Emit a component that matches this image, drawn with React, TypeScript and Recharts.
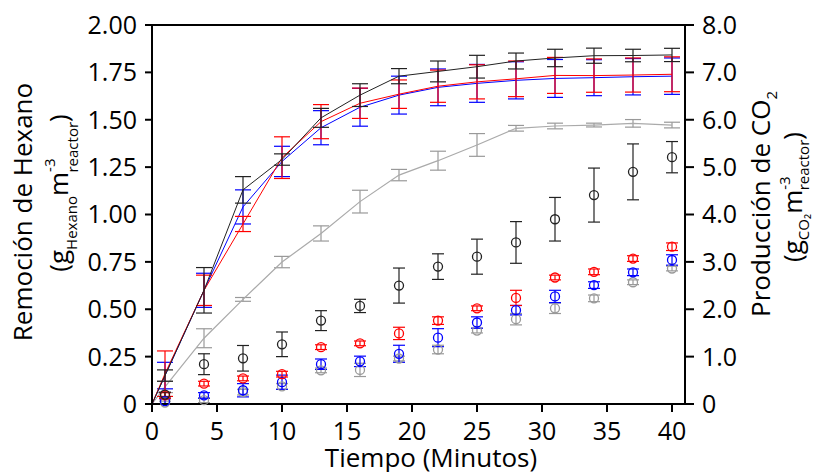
import { ComposedChart, Line, Scatter, XAxis, YAxis, ErrorBar, ReferenceLine } from "recharts"

// tiempo en minutos
const tiempo = [0, 1, 4, 7, 10, 13, 16, 19, 22, 25, 28, 31, 34, 37, 40]
const tiempoCO2 = [1, 4, 7, 10, 13, 16, 19, 22, 25, 28, 31, 34, 37, 40]

// remoción de hexano (eje izquierdo)
const hexNegro = [0, 0.15, 0.6, 1.13, 1.29, 1.51, 1.63, 1.73, 1.755, 1.78, 1.81, 1.826, 1.838, 1.839, 1.842]
const hexNegroErr = [0, 0.03, 0.12, 0.07, 0.03, 0.05, 0.06, 0.04, 0.055, 0.06, 0.042, 0.046, 0.04, 0.033, 0.035]
const hexRojo = [0, 0.16, 0.6, 0.95, 1.3, 1.49, 1.587, 1.635, 1.677, 1.7, 1.716, 1.734, 1.733, 1.736, 1.74]
const hexRojoErr = [0, 0.12, 0.08, 0.04, 0.11, 0.09, 0.08, 0.075, 0.085, 0.09, 0.094, 0.095, 0.088, 0.09, 0.092]
const hexAzul = [0, 0.15, 0.6, 1.04, 1.28, 1.458, 1.566, 1.63, 1.671, 1.692, 1.708, 1.718, 1.722, 1.727, 1.73]
const hexAzulErr = [0, 0.07, 0.09, 0.09, 0.08, 0.09, 0.1, 0.1, 0.097, 0.1, 0.098, 0.1, 0.095, 0.096, 0.096]
const hexGris = [0, 0.09, 0.347, 0.552, 0.749, 0.9, 1.068, 1.208, 1.284, 1.367, 1.455, 1.467, 1.472, 1.481, 1.472]
const hexGrisErr = [0, 0.03, 0.05, 0.01, 0.03, 0.04, 0.06, 0.03, 0.05, 0.06, 0.015, 0.015, 0.01, 0.02, 0.015]

// producción de CO2 (eje derecho)
const co2Negro = [0.2, 0.84, 0.965, 1.26, 1.76, 2.07, 2.5, 2.9, 3.11, 3.41, 3.9, 4.41, 4.9, 5.21]
const co2NegroErr = [0.05, 0.22, 0.27, 0.26, 0.21, 0.14, 0.37, 0.27, 0.37, 0.44, 0.46, 0.57, 0.59, 0.33]
const co2Rojo = [0.18, 0.43, 0.54, 0.63, 1.2, 1.28, 1.49, 1.76, 2.02, 2.24, 2.67, 2.79, 3.07, 3.32]
const co2RojoErr = [0.06, 0.05, 0.05, 0.06, 0.05, 0.05, 0.13, 0.08, 0.05, 0.16, 0.05, 0.06, 0.06, 0.08]
const co2Azul = [0.06, 0.18, 0.29, 0.46, 0.84, 0.9, 1.06, 1.4, 1.72, 1.98, 2.27, 2.51, 2.78, 3.04]
const co2AzulErr = [0.05, 0.06, 0.14, 0.15, 0.11, 0.11, 0.18, 0.19, 0.12, 0.1, 0.13, 0.07, 0.07, 0.11]
const co2Gris = [0.03, 0.08, 0.25, 0.37, 0.71, 0.72, 0.96, 1.15, 1.55, 1.79, 2.02, 2.23, 2.57, 2.86]
const co2GrisErr = [0.03, 0.05, 0.06, 0.06, 0.05, 0.14, 0.05, 0.09, 0.05, 0.12, 0.11, 0.07, 0.05, 0.05]

const xTicks = [0, 5, 10, 15, 20, 25, 30, 35, 40]
const leftTicks = [0, 0.25, 0.5, 0.75, 1, 1.25, 1.5, 1.75, 2]
const rightTicks = [0, 1, 2, 3, 4, 5, 6, 7, 8]

const lineData = tiempo.map((t, i) => ({
  t,
  negro: hexNegro[i],
  negroErr: hexNegroErr[i],
  rojo: hexRojo[i],
  rojoErr: hexRojoErr[i],
  azul: hexAzul[i],
  azulErr: hexAzulErr[i],
  gris: hexGris[i],
  grisErr: hexGrisErr[i],
}))

const serie = (vals: number[], errs: number[]) =>
  tiempoCO2.map((t, i) => ({ t, v: vals[i], e: errs[i] }))

const font = "'Open Sans', sans-serif"

const anillo = (color: string) => (props: any) =>
  <circle cx={props.cx} cy={props.cy} r={4.5} fill="none" stroke={color} strokeWidth={1.3} />

const TituloX = () => (
  <text x={431} y={467} textAnchor="middle" fontSize={26} fontFamily={font} fill="#000">
    Tiempo (Minutos)
  </text>
)

const TituloIzq = () => (
  <g fontFamily={font} fill="#000">
    <text transform="translate(32,212) rotate(-90)" textAnchor="middle" fontSize={26}>
      Remoción de Hexano
    </text>
    <text transform="translate(68,193) rotate(-90)" textAnchor="middle" fontSize={26}>
      (g
      <tspan fontSize={15} dy={9}>Hexano</tspan>
      <tspan dy={-9}>m</tspan>
      <tspan fontSize={15} dy={-13}>-3</tspan>
      <tspan fontSize={15} dx={-14} dy={23}>reactor</tspan>
      <tspan dy={-10}>)</tspan>
    </text>
  </g>
)

const TituloDer = () => (
  <g fontFamily={font} fill="#000">
    <text transform="translate(770,204) rotate(-90)" textAnchor="middle" fontSize={26}>
      Producción de CO
      <tspan fontSize={15} dy={7}>2</tspan>
    </text>
    <text transform="translate(802,197) rotate(-90)" textAnchor="middle" fontSize={26}>
      (g
      <tspan fontSize={15} dy={7}>CO₂</tspan>
      <tspan dy={-7}>m</tspan>
      <tspan fontSize={15} dy={-12}>-3</tspan>
      <tspan fontSize={15} dx={-14} dy={19}>reactor</tspan>
      <tspan dy={-7}>)</tspan>
    </text>
  </g>
)

export default function App() {
  return (
    <div style={{ position: "absolute", left: 0, top: 0, width: 814, height: 472, background: "#fff" }}>
      <ComposedChart width={814} height={472} data={lineData} margin={{ top: 25, right: 0, left: 0, bottom: 0 }}>
        <XAxis
          dataKey="t"
          type="number"
          domain={[0, 41]}
          ticks={xTicks}
          height={68}
          stroke="#000"
          strokeWidth={2}
          tickSize={8}
          tickMargin={10}
          tick={{ fontSize: 25, fontFamily: font, fill: "#000" }}
          label={{ content: TituloX }}
        />
        <YAxis
          yAxisId="left"
          orientation="left"
          domain={[0, 2]}
          ticks={leftTicks}
          width={152}
          stroke="#000"
          strokeWidth={2}
          tickSize={7}
          tickMargin={8}
          tickFormatter={(v: number) => (v === 0 ? "0" : v.toFixed(2))}
          tick={{ fontSize: 25, fontFamily: font, fill: "#000" }}
          label={{ content: TituloIzq }}
        />
        <YAxis
          yAxisId="right"
          orientation="right"
          domain={[0, 8]}
          ticks={rightTicks}
          width={129}
          stroke="#000"
          strokeWidth={2}
          tickSize={9}
          tickMargin={8}
          tickFormatter={(v: number) => (v === 0 ? "0" : v.toFixed(1))}
          tick={{ fontSize: 25, fontFamily: font, fill: "#000" }}
          label={{ content: TituloDer }}
        />
        <ReferenceLine yAxisId="left" y={2} stroke="#000" strokeWidth={2} />

        <Line yAxisId="left" dataKey="gris" stroke="#aaaaaa" strokeWidth={1.2} dot={false} isAnimationActive={false}>
          <ErrorBar dataKey="grisErr" width={8} stroke="#999999" strokeWidth={1.2} />
        </Line>
        <Line yAxisId="left" dataKey="azul" stroke="#0000ff" strokeWidth={1} dot={false} isAnimationActive={false}>
          <ErrorBar dataKey="azulErr" width={8} stroke="#0000ff" strokeWidth={1.2} />
        </Line>
        <Line yAxisId="left" dataKey="rojo" stroke="#ff0000" strokeWidth={1} dot={false} isAnimationActive={false}>
          <ErrorBar dataKey="rojoErr" width={8} stroke="#ff0000" strokeWidth={1.2} />
        </Line>
        <Line yAxisId="left" dataKey="negro" stroke="#222222" strokeWidth={1} dot={false} isAnimationActive={false}>
          <ErrorBar dataKey="negroErr" width={8} stroke="#222222" strokeWidth={1.2} />
        </Line>

        <Scatter yAxisId="right" data={serie(co2Gris, co2GrisErr)} dataKey="v" shape={anillo("#999999")} isAnimationActive={false}>
          <ErrorBar dataKey="e" direction="y" width={6} stroke="#999999" strokeWidth={1.2} />
        </Scatter>
        <Scatter yAxisId="right" data={serie(co2Azul, co2AzulErr)} dataKey="v" shape={anillo("#0000ff")} isAnimationActive={false}>
          <ErrorBar dataKey="e" direction="y" width={6} stroke="#0000ff" strokeWidth={1.2} />
        </Scatter>
        <Scatter yAxisId="right" data={serie(co2Rojo, co2RojoErr)} dataKey="v" shape={anillo("#ff0000")} isAnimationActive={false}>
          <ErrorBar dataKey="e" direction="y" width={6} stroke="#ff0000" strokeWidth={1.2} />
        </Scatter>
        <Scatter yAxisId="right" data={serie(co2Negro, co2NegroErr)} dataKey="v" shape={anillo("#222222")} isAnimationActive={false}>
          <ErrorBar dataKey="e" direction="y" width={6} stroke="#222222" strokeWidth={1.2} />
        </Scatter>
      </ComposedChart>
    </div>
  )
}
